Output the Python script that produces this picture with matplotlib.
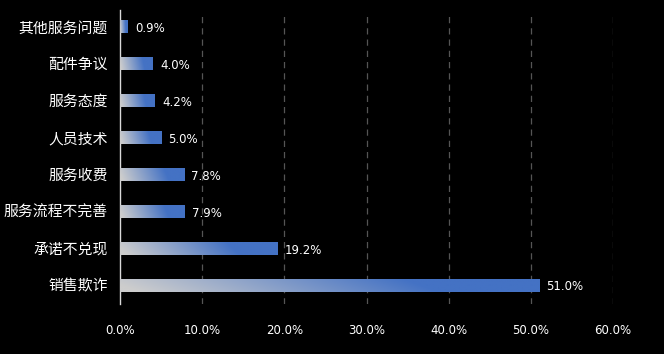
import numpy as np
import matplotlib
matplotlib.use("Agg")
import matplotlib.pyplot as plt
from matplotlib.colors import to_rgb

plt.rcParams['font.family'] = ['Noto Sans CJK SC', 'DejaVu Sans']

categories = ["销售欺诈", "承诺不兑现", "服务流程不完善", "服务收费", "人员技术", "服务态度", "配件争议", "其他服务问题"]
values = [51.0, 19.2, 7.9, 7.8, 5.0, 4.2, 4.0, 0.9]
xticks = [0, 10, 20, 30, 40, 50, 60]

fig = plt.figure(figsize=(6.64, 3.54), dpi=100, facecolor='black')
ax = fig.add_axes([120/664, (354-303.5)/354, 493/664, 295/354], facecolor='black')

c0 = np.array(to_rgb('#cdcdcd'))
c1 = np.array(to_rgb('#4472C4'))
h = 0.35
nx, ny = 200, 20
xs = np.linspace(0, 1, nx)
ys = np.linspace(0, 1, ny)
X, Y = np.meshgrid(xs, ys)
for i, v in enumerate(values):
    t = np.clip((X + 0.08 * (Y - 0.5)) / 0.72, 0, 1)
    img = c0[None, None, :] * (1 - t[..., None]) + c1[None, None, :] * t[..., None]
    ax.imshow(img, extent=[0, v, i - h/2, i + h/2], aspect='auto', origin='lower',
              interpolation='bilinear', zorder=3)
    ax.text(v + 0.9, i - 0.05, f"{v:.1f}%", color='white', fontsize=8.5, va='center', ha='left',
            family=['DejaVu Sans'])

ax.set_xlim(0, 60)
ax.set_ylim(-0.5, 7.5)
ax.set_xticks(xticks)
ax.set_xticklabels([f"{x:.1f}%" for x in xticks], color='white', fontsize=8.5, family=['DejaVu Sans'])
ax.set_yticks(range(len(categories)))
ax.set_yticklabels(categories, color='white', fontsize=10.7)
ax.tick_params(axis='both', length=0)
ax.tick_params(axis='x', pad=15)
ax.tick_params(axis='y', pad=9)
for x in xticks[1:]:
    ax.axvline(x, color='#555555', linestyle=(0, (5, 4)), linewidth=0.9, zorder=1, ymax=0.985)
for s in ['top', 'right', 'bottom']:
    ax.spines[s].set_visible(False)
ax.spines['left'].set_color('#d9d9d9')
ax.spines['left'].set_linewidth(1.0)
ax.spines['left'].set_bounds(-0.5, 7.45)

fig.savefig('out.png', dpi=100, facecolor='black')
